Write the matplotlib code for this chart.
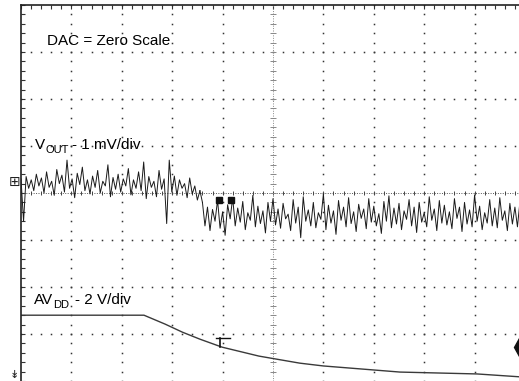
#!/usr/bin/env python3

import numpy as np
import matplotlib
matplotlib.use("Agg")
import matplotlib.pyplot as plt

# screen is 10 x 8 divisions, values below are in divisions
# VOUT trace (1 mV/div), before and after the AVDD drop
vout_before = [4.30, 3.40, 4.35, 4.10, 4.28, 4.05, 4.40, 4.15, 4.32, 4.00, 4.45, 4.12,
               4.25, 3.95, 4.50, 4.20, 4.38, 4.02, 4.70, 4.10, 4.30, 3.90, 4.42, 4.18,
               4.55, 4.05, 4.28, 3.98, 4.36, 4.12, 4.48, 4.00, 4.25, 4.15, 4.60, 3.92,
               4.33, 4.08, 4.40, 4.02, 4.30, 4.15, 4.52, 3.96, 4.28, 4.10, 4.45, 4.05,
               4.66, 3.88, 4.35, 4.12, 4.25, 3.92, 4.48, 4.08, 4.30, 3.35, 4.70, 4.02,
               4.36, 3.95, 4.28, 4.10, 4.20, 3.90, 4.32, 3.98, 4.15, 3.85, 4.05]
vout_after = [3.80, 3.30, 3.70, 3.20, 3.65, 3.40, 3.85, 3.25, 3.60, 3.10, 3.75, 3.45,
              3.90, 3.30, 3.68, 3.38, 3.82, 3.22, 3.58, 3.42, 3.95, 3.28, 3.72, 3.35,
              3.62, 3.15, 3.80, 3.40, 3.88, 3.32, 3.66, 3.25, 3.78, 3.45, 3.55, 3.20,
              3.86, 3.36, 3.70, 3.05, 3.92, 3.40, 3.64, 3.30, 3.80, 3.26, 3.58, 3.44,
              3.98, 3.22, 3.74, 3.36, 3.62, 3.12, 3.84, 3.42, 3.70, 3.28, 3.90, 3.35,
              3.60, 3.18, 3.76, 3.46, 3.66, 3.24, 3.88, 3.38, 3.72, 3.30, 3.56, 3.14,
              3.82, 3.40, 3.94, 3.26, 3.68, 3.34, 3.78, 3.22, 3.62, 3.44, 3.86, 3.30,
              3.70, 3.16, 3.80, 3.38, 3.58, 3.28, 3.92, 3.42, 3.66, 3.20, 3.84, 3.36,
              3.74, 3.32, 3.60, 3.24, 3.88, 3.46, 3.70, 3.18, 3.80, 3.34, 3.64, 3.28,
              3.96, 3.40, 3.72, 3.22, 3.58, 3.36, 3.86, 3.30, 3.68, 3.26, 3.90, 3.42,
              3.62, 3.20, 3.78, 3.34, 3.70, 3.28, 3.82]
t_step = 3.55  # division where VOUT steps down

# AVDD trace (2 V/div)
avdd_t = [0.0, 2.44, 2.86, 3.20, 3.55, 3.99, 4.72, 5.53, 6.00, 7.52, 9.05, 9.88]
avdd_v = [1.40, 1.40, 1.21, 1.04, 0.89, 0.72, 0.53, 0.38, 0.32, 0.19, 0.15, 0.09]

W, H = 519, 381
fig = plt.figure(figsize=(W / 100, H / 100), dpi=100)
fig.patch.set_facecolor("white")
# screen is a bit wider than the picture, right side is cut off
ax = fig.add_axes([21 / W, 0, 504 / W, 376 / H])
ax.set_xlim(0, 10)
ax.set_ylim(0, 8)
ax.set_facecolor("white")

for side in ("right", "bottom"):
    ax.spines[side].set_visible(False)
for side in ("top", "left"):
    ax.spines[side].set_linewidth(1.2)
    ax.spines[side].set_color("#222222")

ax.set_xticks(np.arange(0, 10.01, 0.2))
ax.set_yticks(np.arange(0, 8.01, 0.2))
ax.tick_params(axis="x", top=True, bottom=False, labelbottom=False, direction="in",
               length=3, width=0.8, color="#333333")
ax.tick_params(axis="y", left=True, labelleft=False, direction="in",
               length=3, width=0.8, color="#333333")

# dotted graticule
sub = np.arange(0, 10.01, 0.2)
for gy in range(1, 8):
    if gy == 4:
        continue
    ax.plot(sub, np.full_like(sub, gy), ls="none", marker="s", ms=1.1,
            color="#333333", mew=0)
suby = np.arange(0, 8.01, 0.2)
for gx in range(1, 10):
    if gx == 5:
        continue
    ax.plot(np.full_like(suby, gx), suby, ls="none", marker="s", ms=1.1,
            color="#333333", mew=0)
# centre lines with small ticks
ax.axhline(4, color="#555555", lw=0.7, ls=(0, (1, 1.5)))
ax.plot(sub, np.full_like(sub, 4), ls="none", marker="|", ms=3, mew=0.7, color="#444444")
ax.axvline(5, color="#888888", lw=0.7, ls=(0, (1, 1.5)))
ax.plot(np.full_like(suby, 5), suby, ls="none", marker="_", ms=4, mew=0.7, color="#888888")

# traces
t1 = np.linspace(0, t_step, len(vout_before))
t2 = np.linspace(t_step + 0.05, 9.9, len(vout_after))
ax.plot(t1, vout_before, color="#1a1a1a", lw=0.7)
ax.plot([t1[-1], t2[0]], [vout_before[-1], vout_after[0]], color="#1a1a1a", lw=0.7)
ax.plot(t2, vout_after, color="#1a1a1a", lw=0.7)
ax.plot(avdd_t, avdd_v, color="#3a3a3a", lw=1.0)

# scope markers
ax.plot([3.93, 4.17], [3.85, 3.85], ls="none", marker="s", ms=5, color="#111111")
ax.plot([3.87, 4.15], [0.915, 0.915], color="#111111", lw=1.0)
ax.plot([3.95, 3.95], [0.915, 0.72], color="#111111", lw=1.2)
ax.plot([9.88], [0.72], marker="d", ms=9, color="#111111", clip_on=False)

# labels
fs = 11
sfs = 8
font = "Liberation Sans"


def px(x, y):
    return x / W, 1 - y / H


fig.text(*px(47, 45), "DAC = Zero Scale", fontsize=fs, family=font)
fig.text(*px(35, 149), "V", fontsize=fs, family=font)
fig.text(*px(46, 153), "OUT", fontsize=sfs, family=font)
fig.text(*px(72, 149), "- 1 mV/div", fontsize=fs, family=font)
fig.text(*px(34, 304), "AV", fontsize=fs, family=font)
fig.text(*px(53, 308), "DD", fontsize=sfs, family=font)
fig.text(*px(75, 304), "- 2 V/div", fontsize=fs, family=font)

# channel reference markers on the left
fig.text(*px(9, 186), "\u229e", fontsize=10, color="#222222")
fig.text(*px(10, 380), "\u21a1", fontsize=8, color="#222222", va="bottom")

fig.savefig("out.png", dpi=100)
